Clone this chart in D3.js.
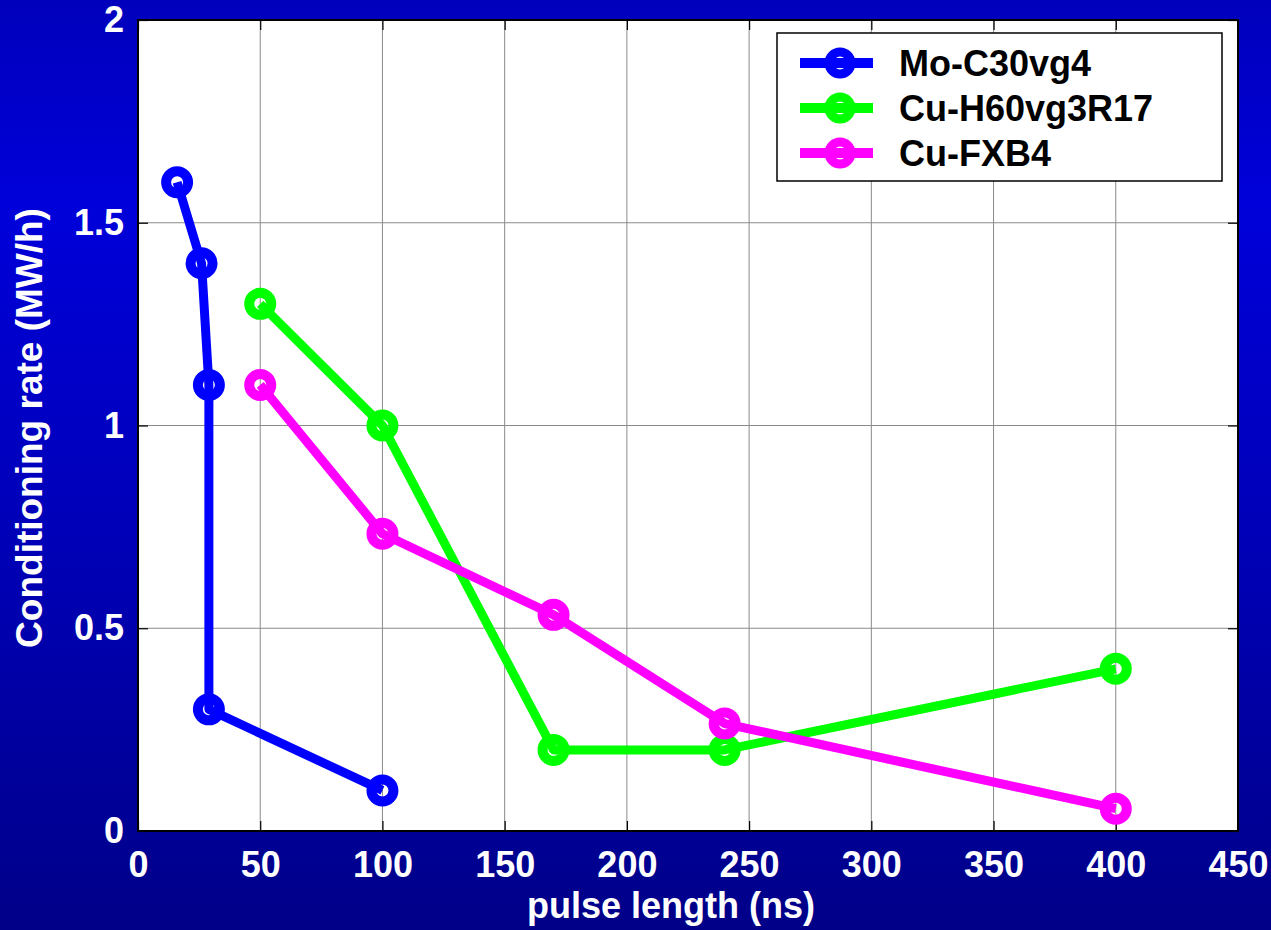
<!DOCTYPE html>
<html>
<head>
<meta charset="utf-8">
<script src="https://cdn.jsdelivr.net/npm/d3@7"></script>
<style>
  html, body { margin: 0; padding: 0; background: #0000b0; overflow: hidden; }
  svg { display: block; font-family: "Liberation Sans", Arial, sans-serif; font-weight: bold; }
</style>
</head>
<body>
<div id="chart"></div>
<script>
// Data
const seriesNames = ["Mo-C30vg4", "Cu-H60vg3R17", "Cu-FXB4"];
const seriesColors = ["#0000ff", "#00ff00", "#ff00ff"];
const moX = [16, 26, 29, 29, 100];
const moY = [1.6, 1.4, 1.1, 0.3, 0.1];
const cuhX = [50, 100, 170, 240, 400];
const cuhY = [1.3, 1.0, 0.2, 0.2, 0.4];
const fxbX = [50, 100, 170, 240, 400];
const fxbY = [1.1, 0.733, 0.533, 0.265, 0.055];
const xTicks = [0, 50, 100, 150, 200, 250, 300, 350, 400, 450];
const yTicks = [0, 0.5, 1, 1.5, 2];

// Dimensions
const width = 1271, height = 930;
const margin = { top: 20, right: 33, bottom: 99, left: 138 };
const innerWidth = width - margin.left - margin.right;
const innerHeight = height - margin.top - margin.bottom;

const svg = d3.select("#chart").append("svg")
  .attr("width", width)
  .attr("height", height);

// Blue gradient background
const defs = svg.append("defs");
const grad = defs.append("linearGradient")
  .attr("id", "bg")
  .attr("x1", 0).attr("y1", 0).attr("x2", 0).attr("y2", 1);
grad.append("stop").attr("offset", "0%").attr("stop-color", "#0000bc");
grad.append("stop").attr("offset", "22%").attr("stop-color", "#0000da");
grad.append("stop").attr("offset", "65%").attr("stop-color", "#0000b0");
grad.append("stop").attr("offset", "100%").attr("stop-color", "#000088");
svg.append("rect")
  .attr("width", width).attr("height", height)
  .attr("fill", "url(#bg)");

const g = svg.append("g")
  .attr("transform", `translate(${margin.left},${margin.top})`);

const x = d3.scaleLinear().domain([0, 450]).range([0, innerWidth]);
const y = d3.scaleLinear().domain([0, 2]).range([innerHeight, 0]);

// Plot area
g.append("rect")
  .attr("width", innerWidth)
  .attr("height", innerHeight)
  .attr("fill", "#ffffff");

// Grid lines
g.append("g")
  .selectAll("line")
  .data(xTicks)
  .enter()
  .append("line")
  .attr("x1", (d) => x(d)).attr("x2", (d) => x(d))
  .attr("y1", 0).attr("y2", innerHeight)
  .attr("stroke", "#8a8a8a")
  .attr("stroke-width", 1);

g.append("g")
  .selectAll("line")
  .data(yTicks)
  .enter()
  .append("line")
  .attr("y1", (d) => y(d)).attr("y2", (d) => y(d))
  .attr("x1", 0).attr("x2", innerWidth)
  .attr("stroke", "#8a8a8a")
  .attr("stroke-width", 1);

// Axes (ticks inside)
const xAxis = d3.axisBottom(x)
  .tickValues(xTicks)
  .tickSize(-10)
  .tickSizeOuter(0)
  .tickPadding(20)
  .tickFormat(d3.format("d"));

const yAxis = d3.axisLeft(y)
  .tickValues(yTicks)
  .tickSize(-10)
  .tickSizeOuter(0)
  .tickPadding(14)
  .tickFormat((d) => String(d));

const gx = g.append("g")
  .attr("transform", `translate(0,${innerHeight})`)
  .call(xAxis);
const gy = g.append("g").call(yAxis);

[gx, gy].forEach((ax) => {
  ax.select(".domain").remove();
  ax.selectAll(".tick line").attr("stroke", "#000000").attr("stroke-width", 1.2);
  ax.selectAll("text")
    .attr("fill", "#ffffff")
    .style("font-size", "36px")
    .style("font-family", "'Liberation Sans', Arial, sans-serif")
    .style("font-weight", "bold");
});
gx.selectAll("text").attr("dy", "0.71em");

// Top/right ticks
const xAxisTop = d3.axisTop(x).tickValues(xTicks).tickSize(-10).tickSizeOuter(0).tickFormat("");
const yAxisRight = d3.axisRight(y).tickValues(yTicks).tickSize(-10).tickSizeOuter(0).tickFormat("");
const gxt = g.append("g").call(xAxisTop);
const gyr = g.append("g").attr("transform", `translate(${innerWidth},0)`).call(yAxisRight);
[gxt, gyr].forEach((ax) => {
  ax.select(".domain").remove();
  ax.selectAll(".tick line").attr("stroke", "#000000").attr("stroke-width", 1.2);
});

// Frame
g.append("rect")
  .attr("width", innerWidth)
  .attr("height", innerHeight)
  .attr("fill", "none")
  .attr("stroke", "#000000")
  .attr("stroke-width", 2);

// Series
const seriesData = [
  d3.zip(moX, moY),
  d3.zip(cuhX, cuhY),
  d3.zip(fxbX, fxbY)
];

const line = d3.line()
  .x((d) => x(d[0]))
  .y((d) => y(d[1]));

seriesData.forEach((pts, i) => {
  g.append("path")
    .datum(pts)
    .attr("d", line)
    .attr("fill", "none")
    .attr("stroke", seriesColors[i])
    .attr("stroke-width", 9)
    .attr("stroke-linejoin", "round");

  g.selectAll(".m" + i)
    .data(pts)
    .enter()
    .append("circle")
    .attr("class", "m" + i)
    .attr("cx", (d) => x(d[0]))
    .attr("cy", (d) => y(d[1]))
    .attr("r", 11)
    .attr("fill", "none")
    .attr("stroke", seriesColors[i])
    .attr("stroke-width", 10);
});

// Axis titles
svg.append("text")
  .attr("x", 671)
  .attr("y", 918)
  .attr("text-anchor", "middle")
  .attr("fill", "#ffffff")
  .style("font-size", "36px")
  .text("pulse length (ns)");

svg.append("text")
  .attr("transform", "translate(42,428) rotate(-90)")
  .attr("text-anchor", "middle")
  .attr("fill", "#ffffff")
  .style("font-size", "37px")
  .text("Conditioning rate (MW/h)");

// Legend
const legend = svg.append("g")
  .attr("transform", "translate(777,33)");

legend.append("rect")
  .attr("width", 445)
  .attr("height", 148)
  .attr("fill", "#ffffff")
  .attr("stroke", "#000000")
  .attr("stroke-width", 1.5);

const items = legend.selectAll(".legend-item")
  .data(seriesNames)
  .enter()
  .append("g")
  .attr("class", "legend-item")
  .attr("transform", (d, i) => `translate(0,${30 + i * 45})`);

items.append("line")
  .attr("x1", 23).attr("x2", 96)
  .attr("y1", 0).attr("y2", 0)
  .attr("stroke", (d, i) => seriesColors[i])
  .attr("stroke-width", 10);

items.append("circle")
  .attr("cx", 63).attr("cy", 0)
  .attr("r", 11)
  .attr("fill", "none")
  .attr("stroke", (d, i) => seriesColors[i])
  .attr("stroke-width", 9);

items.append("text")
  .attr("x", 122)
  .attr("y", 13)
  .attr("fill", "#000000")
  .style("font-size", "36px")
  .text((d) => d);
</script>
</body>
</html>
